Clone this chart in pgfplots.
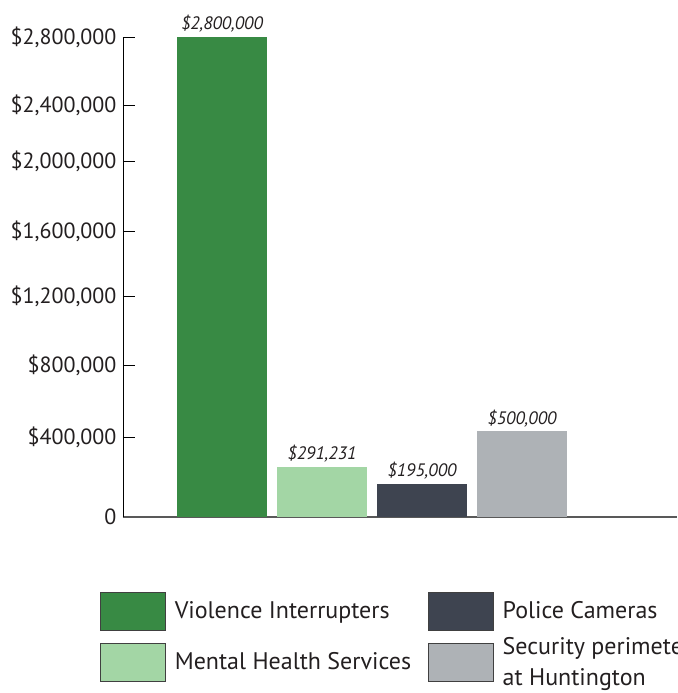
\documentclass[border=0pt]{standalone}
\usepackage{pgfplots}
\pgfplotsset{compat=1.18}
\usepackage{fontspec}
\setmainfont{PT Sans}
\definecolor{cgreen}{HTML}{388A44}
\definecolor{clight}{HTML}{A3D6A5}
\definecolor{cdark}{HTML}{3E4450}
\definecolor{cgrey}{HTML}{AEB2B6}
\definecolor{ctext}{HTML}{231F20}
\begin{document}
\begin{tikzpicture}
\begin{axis}[
  scale only axis,
  width=554pt, height=480pt,
  xmin=0.01, xmax=5.55,
  ymin=0, ymax=2800000,
  axis y line*=left,
  axis x line*=bottom,
  x axis line style={color=black!65, line width=2pt},
  y axis line style={color=black, line width=0.9pt},
  xtick=\empty,
  ytick={0,466667,886667,1289167,1668333,2076667,2403333,2800000},
  yticklabels={0,\$400{,}000,\$800{,}000,\$1{,}200{,}000,\$1{,}600{,}000,\$2{,}000{,}000,\$2{,}400{,}000,\$2{,}800{,}000},
  scaled y ticks=false,
  tick align=inside,
  major tick length=12pt,
  ytick style={color=black, line width=0.9pt},
  yticklabel style={font=\fontsize{22}{26}\selectfont, text=ctext, xshift=-3pt},
  clip=false,
  nodes near coords,
  point meta=explicit symbolic,
  every node near coord/.append style={font=\fontsize{18}{21}\selectfont\itshape, text=ctext, yshift=1pt},
  legend columns=2,
  transpose legend,
  legend cell align=left,
  legend style={
    at={(-0.0415,-0.155)}, anchor=north west,
    draw=none, fill=none, inner sep=0pt,
    font=\fontsize{24}{31}\selectfont, text=ctext,
    nodes={align=left, inner sep=2pt},
    row sep=5pt,
    /tikz/every odd column/.append style={column sep=7pt},
    /tikz/every even column/.append style={column sep=15pt},
  },
  legend image code/.code={\draw[#1, draw=black!75, line width=0.6pt] (0pt,-19pt) rectangle (65pt,19pt);},
]
\addplot[ybar, bar width=90pt, fill=cgreen, draw=none] coordinates {(1,2800000) [\$2,800,000]};
\addlegendentry{Violence Interrupters}
\addplot[ybar, bar width=90pt, fill=clight, draw=none] coordinates {(2,291231) [\$291,231]};
\addlegendentry{Mental Health Services}
\addplot[ybar, bar width=90pt, fill=cdark, draw=none] coordinates {(3,195000) [\$195,000]};
\addlegendentry{Police Cameras}
\addplot[ybar, bar width=90pt, fill=cgrey, draw=none] coordinates {(4,500000) [\$500,000]};
\addlegendentry{Security perimeter\\at Huntington}
\end{axis}
\pgfresetboundingbox
\path[use as bounding box] (-123pt,-176pt) rectangle (554pt,517pt);
\end{tikzpicture}
\end{document}
